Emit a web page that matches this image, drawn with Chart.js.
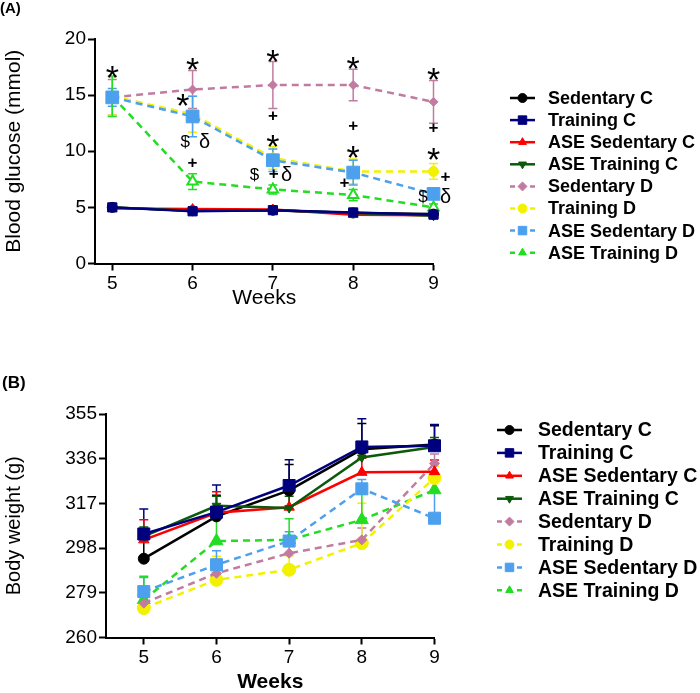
<!DOCTYPE html>
<html>
<head>
<meta charset="utf-8">
<script src="https://cdn.jsdelivr.net/npm/chart.js@4.4.0/dist/chart.umd.min.js"></script>
<style>
    body { margin: 0; background: #ffffff; }
    #wrap { position: relative; width: 700px; height: 693px; }
    canvas { position: absolute; left: 0; }
</style>
</head>
<body>
<div id="wrap">
    <canvas id="chartA" width="700" height="340" style="top:0px"></canvas>
    <canvas id="chartB" width="700" height="353" style="top:340px"></canvas>
</div>
<script>
// ---- data ----
const weeks = [5, 6, 7, 8, 9];
const groupNames = ['Sedentary C', 'Training C', 'ASE Sedentary C', 'ASE Training C',
                    'Sedentary D', 'Training D', 'ASE Sedentary D', 'ASE Training D'];

// (A) blood glucose, mmol
const glucoseSedentaryC    = [5.0, 4.7, 4.75, 4.5, 4.4];
const glucoseTrainingC     = [5.0, 4.65, 4.75, 4.55, 4.35];
const glucoseAseSedentaryC = [4.9, 4.85, 4.8, 4.35, 4.3];
const glucoseAseTrainingC  = [5.0, 4.7, 4.75, 4.5, 4.25];
const glucoseSedentaryD    = [14.8, 15.5, 15.9, 15.9, 14.4];
const glucoseTrainingD     = [14.9, 13.3, 9.4, 8.2, 8.2];
const glucoseAseSedentaryD = [14.8, 13.1, 9.2, 8.1, 6.2];
const glucoseAseTrainingD  = [14.9, 7.3, 6.6, 6.1, 5.0];

const glucoseErrSedentaryC    = [0.15, 0.15, 0.15, 0.15, 0.15];
const glucoseErrTrainingC     = [0.15, 0.15, 0.15, 0.15, 0.15];
const glucoseErrAseSedentaryC = [0.15, 0.2, 0.15, 0.15, 0.15];
const glucoseErrAseTrainingC  = [0.15, 0.15, 0.15, 0.15, 0.15];
const glucoseErrSedentaryD    = [1.6, 1.7, 2.1, 1.4, 1.9];
const glucoseErrTrainingD     = [1.7, 1.6, 1.0, 1.1, 0.7];
const glucoseErrAseSedentaryD = [0.8, 1.8, 1.0, 1.1, 0.3];
const glucoseErrAseTrainingD  = [1.8, 0.7, 0.4, 0.5, 0.3];

const glucoseTicks = [0, 5, 10, 15, 20];

// significance marks on (A): week position, glucose level, symbol
const markWeek  = [5.0, 6.0, 5.88, 5.91, 6.15, 6.0, 7.0, 7.0, 7.0, 6.77, 7.01, 7.17, 8.0, 8.0, 8.0, 7.89, 9.0, 9.0, 9.0, 9.15, 8.87, 9.15];
const markValue = [17.3, 18.05, 14.8, 10.95, 10.95, 9.05, 18.7, 13.2, 11.2, 8.0, 8.0, 8.0, 18.1, 12.3, 10.2, 7.2, 17.1, 12.1, 10.0, 7.8, 6.0, 6.0];
const markText  = ['*', '*', '*', '$', 'δ', '+', '*', '+', '*', '$', '+', 'δ', '*', '+', '*', '+', '*', '+', '*', '+', '$', 'δ'];

// (B) body weight, g
const weightSedentaryC    = [293.5, 311.5, 322.5, 340, 342];
const weightTrainingC     = [304, 313.3, 324.6, 341, 341.5];
const weightAseSedentaryC = [301.5, 313, 315.4, 330.2, 330.5];
const weightAseTrainingC  = [303, 316, 315, 336.5, 341];
const weightSedentaryD    = [274.6, 287.3, 295.8, 301.5, 334];
const weightTrainingD     = [272.5, 284.5, 288.8, 300.1, 327.8];
const weightAseSedentaryD = [279.5, 290.9, 301, 323.2, 310.7];
const weightAseTrainingD  = [276, 301, 301.5, 310, 322.7];

const weightErrSedentaryC    = [8, 9, 11, 11, 8];
const weightErrTrainingC     = [10.6, 11.5, 11, 12, 9];
const weightErrAseSedentaryC = [8.5, 9, 6, 6, 5];
const weightErrAseTrainingC  = [4, 4, 5, 5, 4];
const weightErrSedentaryD    = [4, 6, 6, 5, 4];
const weightErrTrainingD     = [5, 10, 6, 17, 5];
const weightErrAseSedentaryD = [6, 6, 4, 4, 12];
const weightErrAseTrainingD  = [10, 15, 9, 11, 5];

const weightTicks = [260, 279, 298, 317, 336, 355];

// ---- styles ----
const FONT = "'Liberation Sans', Arial, sans-serif";
const SERIES_STYLE = [
    { color: '#000000', dash: [],     point: 'circle',   rotation: 0,   fill: '#000000' },
    { color: '#00007f', dash: [],     point: 'rect',     rotation: 0,   fill: '#00007f' },
    { color: '#ff0000', dash: [],     point: 'triangle', rotation: 0,   fill: '#ff0000' },
    { color: '#0b5a0b', dash: [],     point: 'triangle', rotation: 180, fill: '#0b5a0b' },
    { color: '#c27ba0', dash: [7, 5], point: 'rectRot',  rotation: 0,   fill: '#c27ba0' },
    { color: '#f2f200', dash: [7, 5], point: 'circle',   rotation: 0,   fill: '#f2f200' },
    { color: '#4ca0ee', dash: [7, 5], point: 'rect',     rotation: 0,   fill: '#4ca0ee' },
    { color: '#22dd22', dash: [7, 5], point: 'triangle', rotation: 0,   fill: '#22dd22' }
];
const RADIUS_A = [5, 6.5, 5.5, 5, 4.5, 5, 9, 6];
const RADIUS_B = [5.5, 8.5, 6, 5, 5, 6.5, 8.5, 7.5];

function buildDatasets(values, errors, radii, upOnly, openLast) {
    return values.map((vals, i) => {
        const st = SERIES_STYLE[i];
        const open = openLast && i === 7;
        return {
            label: groupNames[i],
            data: weeks.map((w, j) => ({ x: w, y: vals[j] })),
            errors: errors[i],
            errorUpOnly: upOnly,
            borderColor: st.color,
            backgroundColor: st.fill,
            borderWidth: 2.5,
            borderDash: st.dash,
            pointStyle: st.point,
            pointRotation: st.rotation,
            pointRadius: radii[i],
            pointBackgroundColor: open ? '#ffffff' : st.fill,
            pointBorderColor: st.color,
            pointBorderWidth: open ? 2 : 1,
            tension: 0,
            clip: false,
            order: [5, 1, 4, 3, 6, 7, 2, 8][i]
        };
    });
}

// error bars drawn under the markers
const errorBarPlugin = {
    id: 'errorBars',
    beforeDatasetsDraw(chart) {
        const { ctx, scales: { x, y } } = chart;
        chart.data.datasets.forEach(ds => {
            if (!ds.errors) return;
            ctx.save();
            ctx.strokeStyle = ds.borderColor;
            ctx.lineWidth = 1.5;
            ds.data.forEach((p, j) => {
                const e = ds.errors[j];
                const px = x.getPixelForValue(p.x);
                const top = y.getPixelForValue(p.y + e);
                const bot = y.getPixelForValue(ds.errorUpOnly ? p.y : p.y - e);
                ctx.beginPath();
                ctx.moveTo(px, top); ctx.lineTo(px, bot);
                ctx.moveTo(px - 4.5, top); ctx.lineTo(px + 4.5, top);
                if (!ds.errorUpOnly) { ctx.moveTo(px - 4.5, bot); ctx.lineTo(px + 4.5, bot); }
                ctx.stroke();
            });
            ctx.restore();
        });
    }
};

// line-and-marker legend, like the original software draws it
const sideLegendPlugin = {
    id: 'sideLegend',
    afterDraw(chart, args, opts) {
        const { ctx } = chart;
        chart.data.datasets.forEach((ds, i) => {
            const y = opts.top + i * opts.step;
            ctx.save();
            ctx.strokeStyle = ds.borderColor;
            ctx.lineWidth = 2.5;
            ctx.setLineDash(ds.borderDash.length ? [5, 5] : []);
            ctx.beginPath();
            ctx.moveTo(opts.x0, y); ctx.lineTo(opts.x1, y);
            ctx.stroke();
            ctx.setLineDash([]);
            ctx.fillStyle = ds.backgroundColor;
            ctx.strokeStyle = ds.borderColor;
            ctx.lineWidth = 1;
            Chart.helpers.drawPoint(ctx, {
                pointStyle: ds.pointStyle,
                rotation: ds.pointRotation,
                radius: ds.pointStyle === 'rect' ? 6 : 4.5,
                borderWidth: 1
            }, (opts.x0 + opts.x1) / 2, y);
            ctx.fillStyle = '#000000';
            ctx.font = opts.font;
            ctx.textBaseline = 'middle';
            ctx.textAlign = 'left';
            ctx.fillText(ds.label, opts.textX, y + 1);
            ctx.restore();
        });
        if (opts.panel) {
            ctx.save();
            ctx.fillStyle = '#000000';
            ctx.font = opts.panelFont;
            ctx.textBaseline = 'middle';
            ctx.fillText(opts.panel, opts.panelX, opts.panelY);
            ctx.restore();
        }
    }
};

// significance symbols placed in data space
const markPlugin = {
    id: 'marks',
    afterDraw(chart, args, opts) {
        if (!opts.text) return;
        const { ctx, scales: { x, y } } = chart;
        const glyph = {
            '*': { font: '34px ' + FONT, lift: 0.58 },
            '+': { font: 'bold 17px ' + FONT, lift: 0.33 },
            '$': { font: '17px ' + FONT, lift: 0.36 },
            'δ': { font: '20px ' + FONT, lift: 0.36 }
        };
        ctx.save();
        ctx.fillStyle = '#000000';
        ctx.textAlign = 'center';
        ctx.textBaseline = 'alphabetic';
        opts.text.forEach((t, k) => {
            const g = glyph[t];
            const size = parseFloat(g.font.replace('bold ', ''));
            ctx.font = g.font;
            ctx.fillText(t, x.getPixelForValue(opts.week[k]), y.getPixelForValue(opts.value[k]) + g.lift * size);
        });
        ctx.restore();
    }
};

function axisCommon(fontSize) {
    return {
        grid: { display: true, drawOnChartArea: false, drawTicks: true, tickLength: 7, tickWidth: 2, tickColor: '#000000' },
        border: { display: true, color: '#000000', width: 2 },
        ticks: { color: '#000000', font: { family: FONT, size: fontSize }, padding: 2 }
    };
}

function makePanel(canvasId, cfg) {
    const xAxis = axisCommon(19);
    const yAxis = axisCommon(19);
    return new Chart(document.getElementById(canvasId), {
        type: 'line',
        data: { datasets: cfg.datasets },
        options: {
            responsive: false,
            animation: false,
            devicePixelRatio: 1,
            layout: { padding: { left: 0, top: cfg.top, right: 700 - cfg.right, bottom: cfg.bottomPad } },
            plugins: {
                legend: { display: false },
                tooltip: { enabled: false },
                sideLegend: cfg.legend,
                marks: cfg.marks || {}
            },
            scales: {
                x: {
                    type: 'linear',
                    min: cfg.xMin, max: 9,
                    ...xAxis,
                    afterBuildTicks: s => { s.ticks = weeks.map(v => ({ value: v })); },
                    afterFit: s => { s.height = cfg.xHeight; },
                    title: { display: true, text: 'Weeks', color: '#000000',
                             font: { family: FONT, size: 21, weight: cfg.weeksWeight, lineHeight: 1 }, padding: 0 }
                },
                y: {
                    type: 'linear',
                    min: cfg.yTicks[0], max: cfg.yTicks[cfg.yTicks.length - 1],
                    ...yAxis,
                    afterBuildTicks: s => { s.ticks = cfg.yTicks.map(v => ({ value: v })); },
                    afterFit: s => { s.width = cfg.left; },
                    title: { display: true, text: cfg.yTitle, color: '#000000',
                             font: { family: FONT, size: cfg.yTitleSize }, padding: { top: 2, bottom: 0 } }
                }
            }
        },
        plugins: [errorBarPlugin, sideLegendPlugin, markPlugin]
    });
}

makePanel('chartA', {
    datasets: buildDatasets(
        [glucoseSedentaryC, glucoseTrainingC, glucoseAseSedentaryC, glucoseAseTrainingC,
         glucoseSedentaryD, glucoseTrainingD, glucoseAseSedentaryD, glucoseAseTrainingD],
        [glucoseErrSedentaryC, glucoseErrTrainingC, glucoseErrAseSedentaryC, glucoseErrAseTrainingC,
         glucoseErrSedentaryD, glucoseErrTrainingD, glucoseErrAseSedentaryD, glucoseErrAseTrainingD],
        RADIUS_A, false, true),
    top: 39, right: 433.5, left: 95, xMin: 4.785, bottomPad: 31, xHeight: 45.5,
    yTicks: glucoseTicks, yTitle: 'Blood glucose (mmol)', yTitleSize: 21, weeksWeight: 'normal',
    legend: { top: 98, step: 22.1, x0: 510, x1: 535, textX: 548, font: 'bold 18px ' + FONT,
              panel: '(A)', panelX: 0, panelY: 9, panelFont: 'bold 15px ' + FONT },
    marks: { week: markWeek, value: markValue, text: markText }
});

makePanel('chartB', {
    datasets: buildDatasets(
        [weightSedentaryC, weightTrainingC, weightAseSedentaryC, weightAseTrainingC,
         weightSedentaryD, weightTrainingD, weightAseSedentaryD, weightAseTrainingD],
        [weightErrSedentaryC, weightErrTrainingC, weightErrAseSedentaryC, weightErrAseTrainingC,
         weightErrSedentaryD, weightErrTrainingD, weightErrAseSedentaryD, weightErrAseTrainingD],
        RADIUS_B, true, false),
    top: 74, right: 434.5, left: 106, xMin: 4.48, bottomPad: 0, xHeight: 55.5,
    yTicks: weightTicks, yTitle: 'Body weight (g)', yTitleSize: 20, weeksWeight: 'bold',
    legend: { top: 90, step: 22.9, x0: 497, x1: 522, textX: 538, font: 'bold 19.5px ' + FONT,
              panel: '(B)', panelX: 2, panelY: 43, panelFont: 'bold 17px ' + FONT }
});
</script>
</body>
</html>
